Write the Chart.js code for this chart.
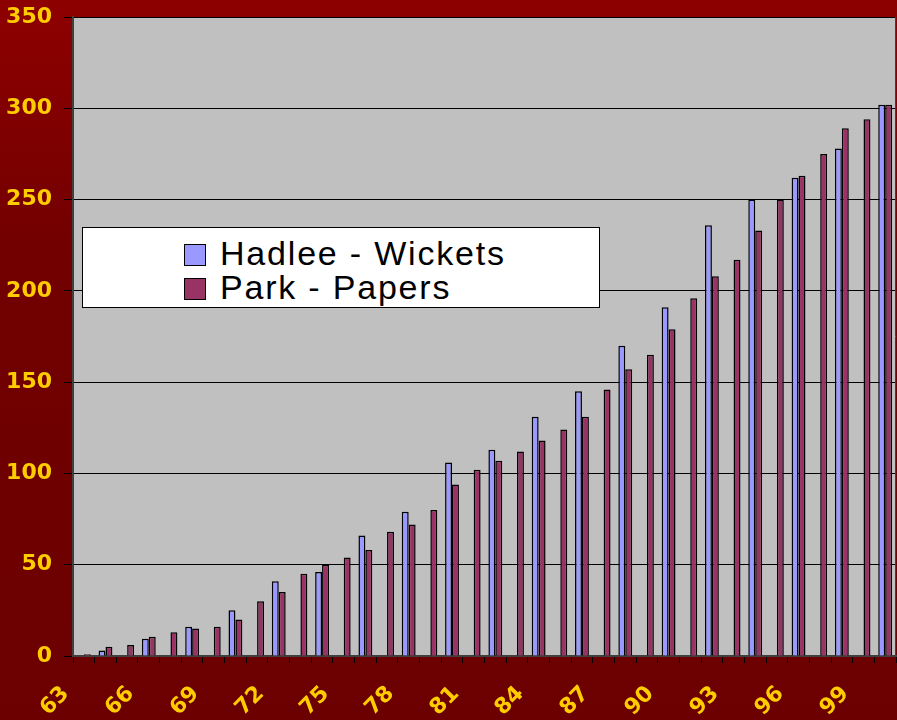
<!DOCTYPE html>
<html>
<head>
<meta charset="utf-8">
<script src="https://cdn.jsdelivr.net/npm/chart.js@4.4.1/dist/chart.umd.min.js"></script>
<style>
  html, body { margin: 0; padding: 0; background: #700000; }
  #wrap { position: relative; width: 897px; height: 720px; }
  canvas { display: block; }
  #legend {
    position: absolute; left: 82px; top: 227px; width: 516px; height: 79px;
    background: #ffffff; border: 1px solid #000000;
    font-family: "Liberation Sans", Arial, sans-serif; font-size: 34px; color: #000;
  }
  .item { position: absolute; left: 101px; height: 34px; line-height: 34px; white-space: nowrap; letter-spacing: 1.8px; }
  .sw { display: inline-block; width: 20px; height: 20px; border: 1px solid #000; vertical-align: -1px; margin-right: 14px; }
</style>
</head>
<body>
<div id="wrap">
  <canvas id="c" width="897" height="720"></canvas>
  <div id="legend"></div>
</div>
<script>
const years = ['63','64','65','66','67','68','69','70','71','72','73','74','75','76','77','78','79','80','81','82',
               '83','84','85','86','87','88','89','90','91','92','93','94','95','96','97','98','99','100'];
const hadleeWickets = [null, 3, null, 9.5, null, 16, null, 25, null, 41, null, 46, null, 66, null, 79, null, 106, null, 113,
                       null, 131, null, 145, null, 170, null, 191, null, 236, null, 250, null, 262, null, 278, null, 302];
const parkPapers = [1, 5, 6, 10.5, 13, 15, 16, 20, 30, 35, 45, 50, 54, 58, 68, 72, 80, 94, 102, 107,
                    112, 118, 124, 131, 146, 157, 165, 179, 196, 208, 217, 233, 250, 263, 275, 289, 294, 302];
const shownYearLabels = ['63','66','69','72','75','78','81','84','87','90','93','96','99'];
const seriesNames = ['Hadlee - Wickets', 'Park - Papers'];
const seriesColors = ['#9999FF', '#993366'];

const bgPlugin = {
  id: 'bg',
  beforeDraw(chart) {
    const { ctx, chartArea: a, width, height } = chart;
    ctx.save();
    const g = ctx.createLinearGradient(0, 0, 0, height);
    g.addColorStop(0, '#8E0000');
    g.addColorStop(0.35, '#720000');
    g.addColorStop(1, '#6C0000');
    ctx.fillStyle = g;
    ctx.fillRect(0, 0, width, height);
    ctx.fillStyle = '#C0C0C0';
    ctx.fillRect(a.left, a.top, a.right - a.left, a.bottom - a.top);
    ctx.restore();
  },
  afterDraw(chart) {
    const { ctx, chartArea: a } = chart;
    ctx.save();
    ctx.strokeStyle = '#404040';
    ctx.lineWidth = 1;
    ctx.beginPath();
    ctx.moveTo(a.right - 0.5, a.top);
    ctx.lineTo(a.right - 0.5, a.bottom);
    ctx.stroke();
    ctx.restore();
  }
};

const labelFont = { family: '"DejaVu Sans", Verdana, sans-serif', size: 22, weight: 'bold' };

new Chart(document.getElementById('c'), {
  type: 'bar',
  data: {
    labels: years,
    datasets: [
      { label: seriesNames[0], data: hadleeWickets, backgroundColor: seriesColors[0], borderColor: '#000000', borderWidth: 1.5 },
      { label: seriesNames[1], data: parkPapers, backgroundColor: seriesColors[1], borderColor: '#000000', borderWidth: 1.5 }
    ]
  },
  options: {
    responsive: false,
    animation: false,
    devicePixelRatio: 1,
    layout: { autoPadding: false, padding: { top: 17, right: 1, left: 0, bottom: 0 } },
    datasets: { bar: { categoryPercentage: 0.64, barPercentage: 1.0 } },
    plugins: { legend: { display: false }, tooltip: { enabled: false } },
    scales: {
      x: {
        offset: true,
        grid: { offset: true, drawOnChartArea: false, drawTicks: true, tickLength: 7, color: '#000000', lineWidth: 1 },
        border: { color: '#404040', width: 2 },
        ticks: {
          autoSkip: false, maxRotation: 45, minRotation: 45,
          color: '#FFCC00', font: labelFont, padding: 18, labelOffset: -18,
          callback(v, i) { const y = years[i]; return shownYearLabels.includes(y) ? y : ''; }
        },
        afterFit(s) { s.height = 64; s.paddingLeft = 0; s.paddingRight = 0; s.paddingTop = 0; s.paddingBottom = 0; }
      },
      y: {
        min: 0, max: 350,
        grid: { color: '#000000', lineWidth: 1, drawTicks: true, tickLength: 9 },
        border: { color: '#404040', width: 2 },
        ticks: { stepSize: 50, color: '#FFCC00', font: labelFont, padding: 12 },
        afterFit(s) { s.width = 73; s.paddingLeft = 0; s.paddingRight = 0; s.paddingTop = 0; s.paddingBottom = 0; }
      }
    }
  },
  plugins: [bgPlugin]
});

const leg = document.getElementById('legend');
seriesNames.forEach((n, i) => {
  const d = document.createElement('div');
  d.className = 'item';
  d.style.top = (8 + i * 34) + 'px';
  const sw = document.createElement('span');
  sw.className = 'sw';
  sw.style.background = seriesColors[i];
  d.appendChild(sw);
  d.appendChild(document.createTextNode(n));
  leg.appendChild(d);
});
</script>
</body>
</html>
